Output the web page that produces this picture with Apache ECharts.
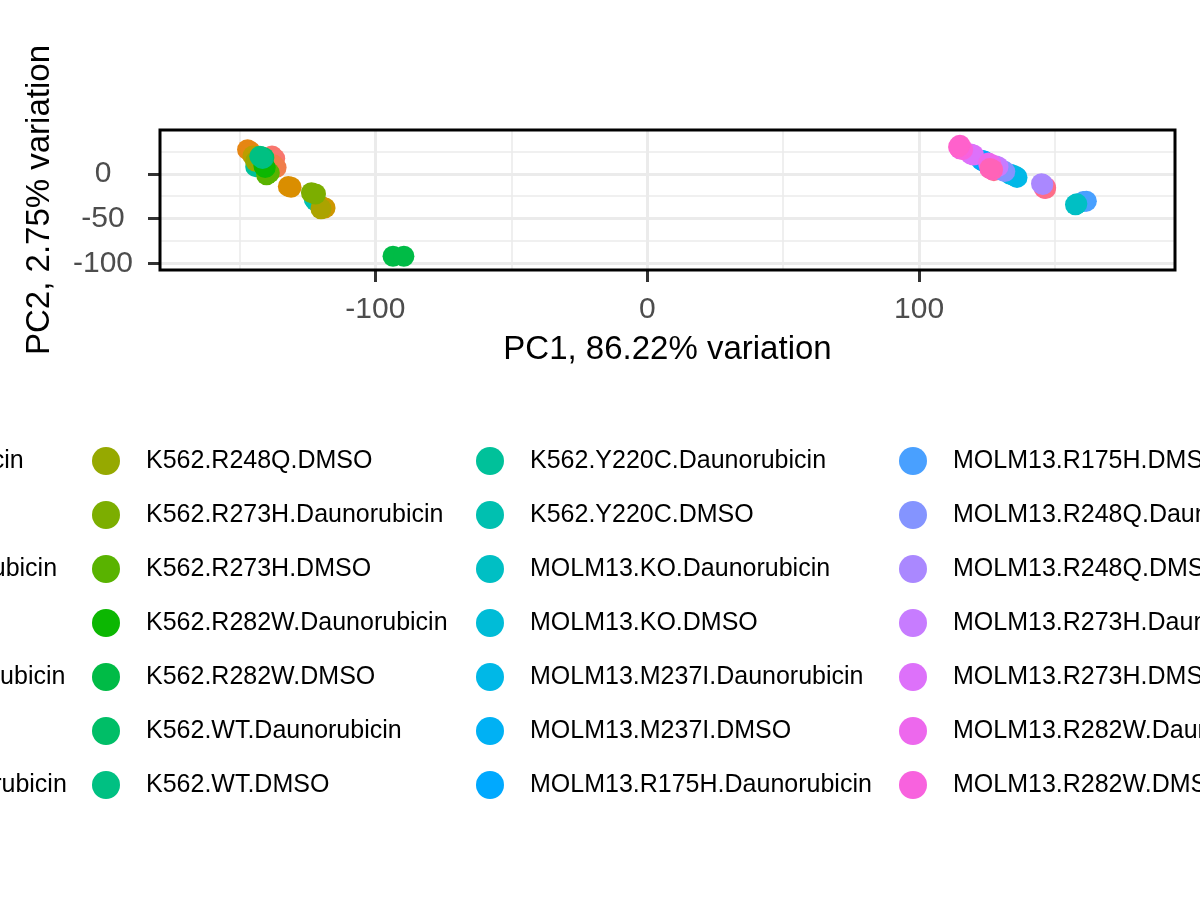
<!DOCTYPE html>
<html>
<head>
<meta charset="utf-8">
<script src="https://cdn.jsdelivr.net/npm/echarts@6/dist/echarts.min.js"></script>
<style>
	html, body { margin: 0; background: #fff }
	#chart { width: 1200px; height: 900px }
</style>
</head>
<body>
<div id="chart"></div>
<script>
// sample groups, in legend order
const groups = [
	'K562.KO.Daunorubicin', 'K562.KO.DMSO', 'K562.M237I.Daunorubicin', 'K562.M237I.DMSO',
	'K562.R175H.Daunorubicin', 'K562.R175H.DMSO', 'K562.R248Q.Daunorubicin', 'K562.R248Q.DMSO',
	'K562.R273H.Daunorubicin', 'K562.R273H.DMSO', 'K562.R282W.Daunorubicin', 'K562.R282W.DMSO',
	'K562.WT.Daunorubicin', 'K562.WT.DMSO', 'K562.Y220C.Daunorubicin', 'K562.Y220C.DMSO',
	'MOLM13.KO.Daunorubicin', 'MOLM13.KO.DMSO', 'MOLM13.M237I.Daunorubicin', 'MOLM13.M237I.DMSO',
	'MOLM13.R175H.Daunorubicin', 'MOLM13.R175H.DMSO', 'MOLM13.R248Q.Daunorubicin', 'MOLM13.R248Q.DMSO',
	'MOLM13.R273H.Daunorubicin', 'MOLM13.R273H.DMSO', 'MOLM13.R282W.Daunorubicin', 'MOLM13.R282W.DMSO',
	'MOLM13.WT.Daunorubicin', 'MOLM13.WT.DMSO', 'MOLM13.Y220C.Daunorubicin', 'MOLM13.Y220C.DMSO'
]

// PC1 / PC2 of the replicates of each group
const pc1 = [
	[-138, -137], [-136.5, -137.5], [-147, -146], [-132, -131],
	[-119.5, -118.5], [-145, -144], [-143, -120], [-144, -142.5],
	[-123.5, -122], [-140, -139], [-140.5, -141], [-93.5, -89.5],
	[-142, -141], [-141.5, -142.5], [-144, -143], [-122, -122.5],
	[157.5, 158], [135.5, 134.5], [136, 133.5], [124, 123],
	[123.5, 124.5], [161.5, 160.5], [131.5, 130.5], [145.5, 145],
	[129, 128], [120, 119], [125.5, 126.5], [116, 115],
	[115, 114.5], [127, 126], [146, 146.5], [127.5, 146.5]
]
const pc2 = [
	[20, 17], [7, 10], [27, 25], [-14, -15],
	[-37, -38], [20, 18], [17, -39], [14, 15],
	[-21, -22.5], [-1, 1], [7, 9], [-92, -92],
	[19, 18], [17, 19.5], [8, 10], [-30, -28],
	[-34.5, -33.5], [-3, -1.5], [-4, -0.5], [14, 15],
	[14.5, 13], [-30.5, -31], [2.5, 4], [-12, -11],
	[8, 9], [21, 22], [12, 10.5], [27, 28],
	[32, 30], [4.5, 6], [-16, -15], [3.5, -16.5]
]

const xTicks = [-100, 0, 100]
const xMinor = [-150, -50, 50, 150]
const yTicks = [-100, -50, 0]
const yMinor = [-75, -25, 25]
const xRange = [-179.2, 194.1]
const yRange = [-107.3, 48.9]

// groups whose points sit underneath the others
const lowered = [14, 15, 21, 30, 31]

// ggplot's default hue palette (polar Luv)
function hcl(h, c, l) {
	const hr = h * Math.PI / 180
	const U = c * Math.cos(hr), V = c * Math.sin(hr)
	const Xn = 95.047, Yn = 100, Zn = 108.883
	const den = Xn + 15 * Yn + 3 * Zn
	const un = 4 * Xn / den, vn = 9 * Yn / den
	const Y = l > 8 ? Yn * Math.pow((l + 16) / 116, 3) : Yn * l / 903.3
	const u = U / (13 * l) + un, v = V / (13 * l) + vn
	const X = 9 * Y * u / (4 * v)
	const Z = -X / 3 - 5 * Y + 3 * Y / v
	const x = X / 100, y = Y / 100, z = Z / 100
	const lin = [
		3.240479 * x - 1.537150 * y - 0.498535 * z,
		-0.969256 * x + 1.875992 * y + 0.041556 * z,
		0.055648 * x - 0.204043 * y + 1.057311 * z
	]
	return '#' + lin.map(t => {
		let g = t <= 0.0031308 ? 12.92 * t : 1.055 * Math.pow(t, 1 / 2.4) - 0.055
		g = Math.min(1, Math.max(0, g))
		return Math.round(g * 255).toString(16).padStart(2, '0')
	}).join('')
}
const colors = groups.map((g, i) => hcl(15 + 360 / groups.length * i, 100, 65))

const font = 'Liberation Sans, Arial, sans-serif'
const gridColor = '#EBEBEB'

// legend is laid out in columns of 7, centred and wider than the page
const legendLefts = [-286, 92, 476, 899, 1340]
const legends = legendLefts.map((left, c) => ({
	orient: 'vertical',
	left,
	top: 447,
	padding: 0,
	itemWidth: 70,
	itemHeight: 28,
	itemGap: 26,
	icon: 'circle',
	selectedMode: false,
	textStyle: { fontSize: 25, color: '#000', fontFamily: font },
	data: groups.slice(c * 7, c * 7 + 7)
}))

const tickStyle = { length: 12, lineStyle: { color: '#333', width: 3 } }

const chart = echarts.init(document.getElementById('chart'))
chart.setOption({
	animation: false,
	backgroundColor: '#fff',
	textStyle: { fontFamily: font },
	grid: {
		left: 160, right: 25, top: 130, height: 140,
		show: true, z: 3,
		borderColor: '#000', borderWidth: 3,
		backgroundColor: 'transparent'
	},
	legend: legends,
	xAxis: [
		{
			type: 'value',
			position: 'bottom',
			min: xRange[0], max: xRange[1],
			axisLine: { show: false, onZero: false },
			axisTick: { customValues: xTicks, ...tickStyle },
			axisLabel: { customValues: xTicks, fontSize: 30, color: '#4D4D4D', margin: 40, verticalAlign: 'middle' },
			splitLine: { show: true, lineStyle: { color: gridColor, width: 3 } },
			name: 'PC1, 86.22% variation',
			nameLocation: 'middle',
			nameGap: 80,
			nameTextStyle: { fontSize: 33, color: '#000', verticalAlign: 'middle' }
		},
		{
			type: 'value',
			position: 'top',
			min: xRange[0], max: xRange[1],
			axisLine: { show: false, onZero: false },
			axisTick: { show: false, customValues: xMinor },
			axisLabel: { show: false },
			splitLine: { show: true, lineStyle: { color: gridColor, width: 1.6 } }
		}
	],
	yAxis: [
		{
			type: 'value',
			position: 'left',
			min: yRange[0], max: yRange[1],
			axisLine: { show: false, onZero: false },
			axisTick: { customValues: yTicks, ...tickStyle },
			axisLabel: { customValues: yTicks, fontSize: 30, color: '#4D4D4D', margin: 57, align: 'center' },
			splitLine: { show: true, lineStyle: { color: gridColor, width: 3 } },
			name: 'PC2, 2.75% variation',
			nameLocation: 'middle',
			nameGap: 120,
			nameTextStyle: { fontSize: 33, color: '#000', verticalAlign: 'middle' }
		},
		{
			type: 'value',
			position: 'right',
			min: yRange[0], max: yRange[1],
			axisLine: { show: false, onZero: false },
			axisTick: { show: false, customValues: yMinor },
			axisLabel: { show: false },
			splitLine: { show: true, lineStyle: { color: gridColor, width: 1.6 } }
		}
	],
	series: groups.map((name, i) => ({
		type: 'scatter',
		name,
		xAxisIndex: 0,
		yAxisIndex: 0,
		z: lowered.includes(i) ? 1 : 2,
		symbolSize: 21,
		itemStyle: { color: colors[i], opacity: 1 },
		emphasis: { disabled: true },
		data: pc1[i].map((x, k) => [x, pc2[i][k]])
	}))
})
</script>
</body>
</html>
